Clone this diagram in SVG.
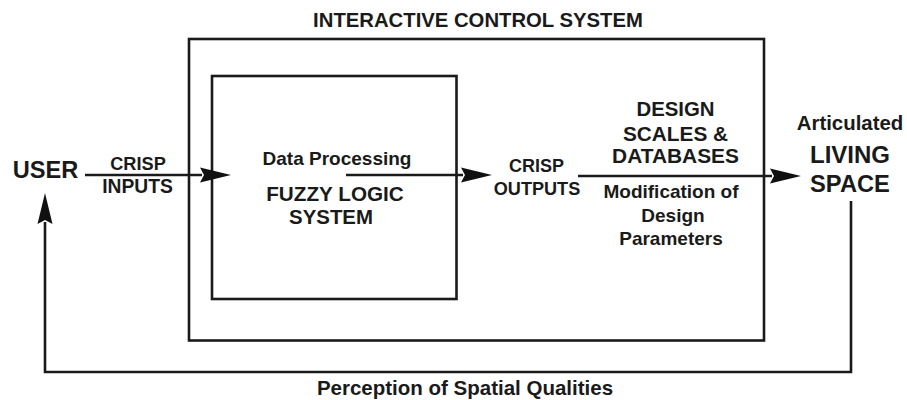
<svg xmlns="http://www.w3.org/2000/svg" width="907" height="400" viewBox="0 0 907 400">
<style>
text{font-family:"Liberation Sans",Arial,sans-serif;font-weight:bold;fill:#1a1a1a;text-anchor:middle}
.box{fill:none;stroke:#1a1a1a;stroke-width:2.6}
.wire{fill:none;stroke:#1a1a1a;stroke-width:2.6}
</style>
<defs>
<marker id="ah" markerUnits="userSpaceOnUse" markerWidth="34" markerHeight="18" refX="2" refY="8" orient="auto">
<path d="M0,0.5 L31,8 L0,15.5 L4,8 z" fill="#111"/>
</marker>
</defs>
<g id="interactive-control-system">
<rect class="box" x="189" y="39" width="575" height="301.5"/>
<text x="478" y="27" font-size="20.3">INTERACTIVE CONTROL SYSTEM</text>
</g>
<g id="fuzzy-logic-system">
<rect class="box" x="212" y="76" width="244.5" height="223"/>
<text x="337" y="165" font-size="19">Data Processing</text>
<text x="335" y="201" font-size="20.7">FUZZY LOGIC</text>
<text x="331" y="223.5" font-size="20.4">SYSTEM</text>
</g>
<g id="user">
<text x="45.5" y="177.5" font-size="23.6">USER</text>
</g>
<g id="design-scales">
<text x="675.5" y="116" font-size="20.4">DESIGN</text>
<text x="675.5" y="140.5" font-size="20.8">SCALES &amp;</text>
<text x="675.5" y="162.5" font-size="20.9">DATABASES</text>
<text x="671" y="198" font-size="19">Modification of</text>
<text x="673" y="221.5" font-size="19">Design</text>
<text x="671" y="245" font-size="19">Parameters</text>
</g>
<g id="living-space">
<text x="850" y="130" font-size="20.4">Articulated</text>
<text x="850" y="162.5" font-size="24">LIVING</text>
<text x="850" y="191.5" font-size="23.7">SPACE</text>
</g>
<g id="connectors">
<path class="wire" d="M85,175 L202,175" marker-end="url(#ah)"/>
<text x="138" y="170" font-size="18.2">CRISP</text>
<text x="137.5" y="192.5" font-size="19.3">INPUTS</text>
<path class="wire" d="M346,175 L463,175" marker-end="url(#ah)"/>
<text x="536.5" y="171.5" font-size="18">CRISP</text>
<text x="537" y="195" font-size="18.1">OUTPUTS</text>
<path class="wire" d="M578,176 L772,176" marker-end="url(#ah)"/>
<path class="wire" d="M851,201 L851,372 L45,372 L45,222" marker-end="url(#ah)"/>
<text x="465" y="394.5" font-size="20.5">Perception of Spatial Qualities</text>
</g>
</svg>
